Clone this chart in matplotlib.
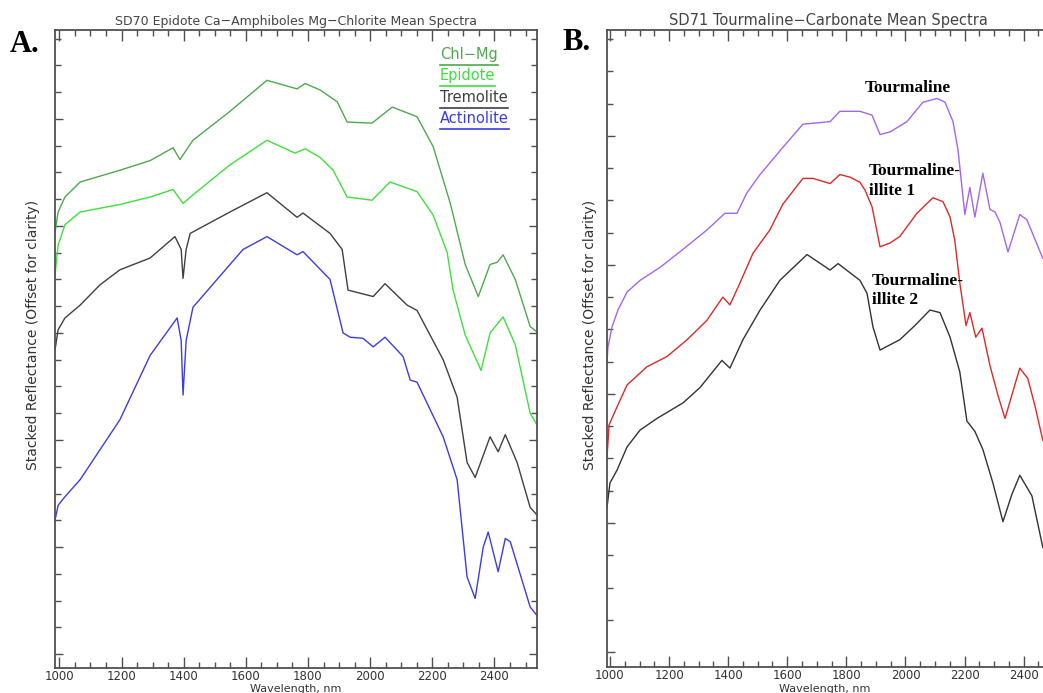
import matplotlib
matplotlib.use("Agg")
import matplotlib.pyplot as plt
from matplotlib.ticker import MultipleLocator

# ---------------- SD70: epidote / Ca-amphiboles / Mg-chlorite ----------------
sd70_labels = ["Chl−Mg", "Epidote", "Tremolite", "Actinolite"]
sd70_colors = ["#4fa84f", "#3ee03e", "#404040", "#3c3ce6"]

chl_wl = [986, 996, 1018, 1067, 1195, 1292, 1366, 1388, 1430, 1549, 1668, 1765, 1791,
          1839, 1894, 1926, 2006, 2071, 2151, 2203, 2258, 2306, 2348, 2386, 2409, 2428,
          2467, 2515, 2537]
chl_r = [0.394, 0.413, 0.427, 0.441, 0.452, 0.461, 0.473, 0.462, 0.480, 0.507, 0.536,
         0.528, 0.533, 0.527, 0.516, 0.497, 0.496, 0.511, 0.502, 0.474, 0.421, 0.364,
         0.334, 0.364, 0.366, 0.373, 0.350, 0.306, 0.301]

epi_wl = [986, 996, 1018, 1067, 1195, 1292, 1366, 1398, 1430, 1549, 1668, 1758, 1791,
          1839, 1881, 1926, 2006, 2064, 2151, 2203, 2248, 2267, 2306, 2357, 2386, 2428,
          2467, 2515, 2537]
epi_r = [0.354, 0.382, 0.401, 0.413, 0.420, 0.427, 0.434, 0.421, 0.429, 0.457, 0.480,
         0.468, 0.472, 0.464, 0.452, 0.427, 0.424, 0.441, 0.432, 0.410, 0.375, 0.340,
         0.298, 0.265, 0.300, 0.315, 0.289, 0.225, 0.214]

tre_wl = [986, 996, 1018, 1067, 1131, 1195, 1292, 1372, 1392, 1398, 1408, 1421, 1549,
          1668, 1765, 1784, 1871, 1910, 1929, 2010, 2048, 2119, 2151, 2235, 2280, 2312,
          2338, 2386, 2412, 2435, 2473, 2515, 2537]
tre_r = [0.284, 0.303, 0.314, 0.326, 0.345, 0.359, 0.370, 0.390, 0.378, 0.351, 0.378,
         0.393, 0.413, 0.431, 0.408, 0.412, 0.393, 0.378, 0.340, 0.334, 0.346, 0.326,
         0.321, 0.275, 0.240, 0.179, 0.165, 0.203, 0.189, 0.205, 0.179, 0.137, 0.130]

act_wl = [986, 996, 1018, 1067, 1131, 1195, 1292, 1379, 1392, 1398, 1408, 1430, 1591,
          1668, 1765, 1784, 1871, 1913, 1936, 1977, 2010, 2048, 2106, 2129, 2151, 2235,
          2280, 2312, 2338, 2364, 2380, 2412, 2435, 2451, 2515, 2537]
act_r = [0.125, 0.139, 0.147, 0.163, 0.191, 0.219, 0.279, 0.314, 0.293, 0.242, 0.293,
         0.324, 0.378, 0.390, 0.373, 0.376, 0.350, 0.300, 0.296, 0.295, 0.287, 0.296,
         0.278, 0.256, 0.254, 0.203, 0.163, 0.072, 0.052, 0.100, 0.114, 0.077, 0.108,
         0.105, 0.044, 0.036]

# ---------------- SD71: tourmaline-carbonate ----------------
sd71_colors = ["#a266f0", "#e02828", "#333333"]

tou_wl = [990, 993, 1007, 1027, 1058, 1102, 1169, 1247, 1328, 1389, 1430, 1464, 1508,
          1585, 1653, 1745, 1778, 1846, 1887, 1914, 1948, 2005, 2059, 2107, 2134, 2161,
          2178, 2201, 2218, 2235, 2262, 2286, 2303, 2320, 2347, 2387, 2411, 2465]
tou_r = [0.224, 0.236, 0.252, 0.265, 0.279, 0.288, 0.298, 0.312, 0.327, 0.340, 0.340,
         0.356, 0.370, 0.391, 0.409, 0.411, 0.419, 0.419, 0.416, 0.401, 0.403, 0.411,
         0.426, 0.429, 0.426, 0.411, 0.389, 0.339, 0.360, 0.337, 0.371, 0.343, 0.341,
         0.333, 0.310, 0.339, 0.335, 0.305]

ti1_wl = [990, 997, 1024, 1058, 1125, 1193, 1261, 1328, 1382, 1406, 1440, 1484, 1541,
          1585, 1653, 1687, 1745, 1778, 1812, 1846, 1863, 1887, 1914, 1948, 1981, 2039,
          2093, 2127, 2151, 2167, 2184, 2205, 2218, 2238, 2259, 2286, 2313, 2337, 2360,
          2387, 2414, 2438, 2465]
ti1_r = [0.151, 0.176, 0.190, 0.207, 0.221, 0.229, 0.242, 0.257, 0.275, 0.269, 0.286,
         0.309, 0.327, 0.347, 0.367, 0.367, 0.363, 0.370, 0.368, 0.364, 0.358, 0.345,
         0.314, 0.317, 0.322, 0.340, 0.352, 0.349, 0.337, 0.319, 0.286, 0.253, 0.263,
         0.244, 0.251, 0.222, 0.199, 0.181, 0.199, 0.220, 0.212, 0.191, 0.164]

ti2_wl = [990, 1000, 1024, 1058, 1102, 1159, 1247, 1305, 1379, 1406, 1450, 1508, 1575,
          1667, 1745, 1772, 1846, 1870, 1890, 1914, 1981, 2032, 2083, 2117, 2151, 2184,
          2208, 2235, 2262, 2296, 2330, 2360, 2387, 2428, 2465]
ti2_r = [0.112, 0.131, 0.141, 0.159, 0.172, 0.181, 0.193, 0.205, 0.226, 0.220, 0.242,
         0.265, 0.288, 0.308, 0.296, 0.301, 0.288, 0.278, 0.252, 0.234, 0.242, 0.253,
         0.265, 0.263, 0.244, 0.217, 0.179, 0.171, 0.157, 0.131, 0.101, 0.122, 0.137,
         0.121, 0.081]

sd70 = [(chl_wl, chl_r), (epi_wl, epi_r), (tre_wl, tre_r), (act_wl, act_r)]
sd71 = [(tou_wl, tou_r), (ti1_wl, ti1_r), (ti2_wl, ti2_r)]
sd71_notes = ["Tourmaline", "Tourmaline-\nillite 1", "Tourmaline-\nillite 2"]
note_wl = [1863, 1876, 1887]
note_r = [0.443, 0.379, 0.294]

W, H = 1043, 693
fig = plt.figure(figsize=(W / 100, H / 100), dpi=100)
AX_COL = "#505050"


def frame(ax, xlim, ylim):
    ax.set_xlim(*xlim)
    ax.set_ylim(*ylim)
    ax.xaxis.set_major_locator(MultipleLocator(200))
    ax.xaxis.set_minor_locator(MultipleLocator(50))
    ax.yaxis.set_major_locator(MultipleLocator(0.1))
    ax.yaxis.set_minor_locator(MultipleLocator(0.025))
    ax.tick_params(which="both", direction="in", top=True, right=True,
                   color=AX_COL, width=1.0, labelleft=False)
    ax.tick_params(axis="x", which="major", length=8, pad=1.5, labelsize=8.5,
                   labelcolor="#333333")
    ax.tick_params(axis="x", which="minor", length=4)
    ax.tick_params(axis="y", which="major", length=6)
    ax.tick_params(axis="y", which="minor", length=4)
    for s in ax.spines.values():
        s.set_color(AX_COL)
        s.set_linewidth(1.3)


# left panel
axA = fig.add_axes([55 / W, 1 - 668 / H, 482 / W, 638 / H])
for (wl, r), c in zip(sd70, sd70_colors):
    axA.plot(wl, r, color=c, lw=1.0)
frame(axA, (986, 2537), (-0.013, 0.583))

legend_y = [0.961, 0.928, 0.894, 0.861]
leg_texts = []
for lab, c, y in zip(sd70_labels, sd70_colors, legend_y):
    t = axA.text(0.799, y, lab, color=c, fontsize=10.5, transform=axA.transAxes,
                 ha="left", va="center")
    leg_texts.append(t)

# right panel (runs past the right edge of the page)
axB = fig.add_axes([607 / W, 1 - 667 / H, 458 / W, 637 / H])
for (wl, r), c in zip(sd71, sd71_colors):
    axB.plot(wl, r, color=c, lw=1.0)
frame(axB, (990, 2540), (-0.0116, 0.482))

for txt, x, y in zip(sd71_notes, note_wl, note_r):
    axB.text(x, y, txt, fontsize=12.5, fontweight="bold", family="Liberation Serif",
             ha="left", va="top", linespacing=1.3)

# titles, axis labels, panel letters
fig.text(296 / W, 1 - 21 / H, "SD70 Epidote Ca−Amphiboles Mg−Chlorite Mean Spectra",
         ha="center", va="center", fontsize=9, color="#444444")
fig.text(828 / W, 1 - 21 / H, "SD71 Tourmaline−Carbonate Mean Spectra",
         ha="center", va="center", fontsize=10.5, color="#444444")
for xc in (296, 825):
    fig.text(xc / W, 1 - 689 / H, "Wavelength, nm", ha="center", va="center",
             fontsize=8, color="#333333")
for xc in (33, 590):
    fig.text(xc / W, 1 - 335 / H, "Stacked Reflectance (Offset for clarity)",
             rotation=90, ha="center", va="center", fontsize=10, color="#333333")
fig.text(10 / W, 1 - 45 / H, "A.", fontsize=22, fontweight="bold",
         family="Liberation Serif", ha="left", va="center")
fig.text(562 / W, 1 - 42 / H, "B.", fontsize=22, fontweight="bold",
         family="Liberation Serif", ha="left", va="center")

# underline each legend entry in its own colour
fig.canvas.draw()
inv = axA.transAxes.inverted()
for t in leg_texts:
    bb = t.get_window_extent().transformed(inv)
    axA.plot([bb.x0, bb.x1], [bb.y0 - 0.004] * 2, color=t.get_color(), lw=1.2,
             transform=axA.transAxes, clip_on=False)

fig.savefig("out.png", dpi=100)
